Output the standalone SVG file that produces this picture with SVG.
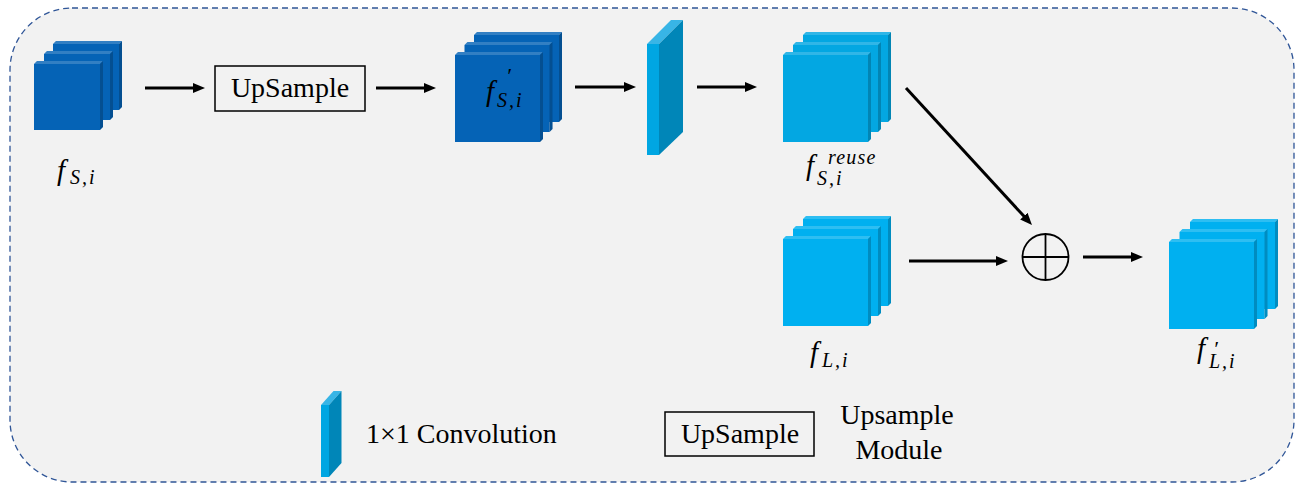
<svg xmlns="http://www.w3.org/2000/svg" xmlns:xlink="http://www.w3.org/1999/xlink" width="1304" height="485" viewBox="0 0 1304 485">
<style>
.txt{font-family:"Liberation Serif","Times New Roman",serif;font-size:28px;fill:#000}
.math{font-family:"Liberation Serif","Times New Roman",serif;font-style:italic;font-size:29px;fill:#000}
.sub{font-size:20px;letter-spacing:2px}
.sup{font-size:20px;letter-spacing:1.2px}
.pr{font-size:22px}
.arrow{stroke:#000;stroke-width:3;fill:none;marker-end:url(#ah)}
.box{fill:none;stroke:#000;stroke-width:1.5}
.dark{color:#0563b6}
.mid{color:#03a7e2}
.light{color:#00b0f0}
</style>
<defs>
<marker id="ah" viewBox="0 0 12 10" refX="2" refY="5" markerWidth="12" markerHeight="10" markerUnits="userSpaceOnUse" orient="auto">
<path d="M0,0 L12,5 L0,10 z" fill="#000"/>
</marker>
<g id="sheetS">
<rect x="0" y="0" width="66" height="66" fill="currentColor"/>
<polygon points="0,0 3,-3 69,-3 66,0" fill="currentColor"/>
<polygon points="0,0 3,-3 69,-3 66,0" fill="#fff" opacity="0.18"/>
<polygon points="66,0 69,-3 69,63 66,66" fill="currentColor"/>
<polygon points="66,0 69,-3 69,63 66,66" fill="#000" opacity="0.2"/>
</g>
<g id="sheetL">
<rect x="0" y="0" width="85" height="87" fill="currentColor"/>
<polygon points="0,0 3,-3 88,-3 85,0" fill="currentColor"/>
<polygon points="0,0 3,-3 88,-3 85,0" fill="#fff" opacity="0.18"/>
<polygon points="85,0 88,-3 88,84 85,87" fill="currentColor"/>
<polygon points="85,0 88,-3 88,84 85,87" fill="#000" opacity="0.2"/>
</g>
</defs>
<rect x="0" y="0" width="1304" height="485" fill="#fff"/>
<rect id="frame" x="10" y="8" width="1284" height="474" rx="62" ry="62" fill="#f2f2f2" stroke="#2f5597" stroke-width="1.3" stroke-dasharray="6 4"/>

<g id="fSi" class="dark">
<use xlink:href="#sheetS" x="53" y="44"/>
<use xlink:href="#sheetS" x="44" y="54"/>
<use xlink:href="#sheetS" x="34" y="64"/>
<text class="math" x="57" y="180">f<tspan class="sub" x="70" y="184">S,i</tspan></text>
</g>

<g id="upsample">
<rect class="box" x="215" y="66" width="150" height="45"/>
<text class="txt" x="290" y="97" text-anchor="middle">UpSample</text>
</g>

<g id="fSi_prime" class="dark">
<use xlink:href="#sheetL" x="474" y="35"/>
<use xlink:href="#sheetL" x="464.5" y="45"/>
<use xlink:href="#sheetL" x="455" y="55"/>
<text class="math" x="486" y="101">f<tspan class="pr" x="506" y="83">′</tspan><tspan class="sub" x="497" y="107">S,i</tspan></text>
</g>

<g id="conv">
<polygon points="647,44 671,20 683,20 659,44" fill="#38b5e6"/>
<polygon points="659,44 683,20 683,132 659,155" fill="#0086b8"/>
<rect x="647" y="44" width="12" height="111" fill="#00a6e2"/>
</g>

<g id="fSi_reuse" class="mid">
<use xlink:href="#sheetL" x="803" y="35"/>
<use xlink:href="#sheetL" x="793" y="45"/>
<use xlink:href="#sheetL" x="783" y="55"/>
<text class="math" x="806" y="175">f<tspan class="sup" x="828" y="164">reuse</tspan><tspan class="sub" x="817" y="185">S,i</tspan></text>
</g>

<g id="fLi" class="light">
<use xlink:href="#sheetL" x="803" y="219"/>
<use xlink:href="#sheetL" x="793" y="229"/>
<use xlink:href="#sheetL" x="783" y="239"/>
<text class="math" x="810" y="362">f<tspan class="sub" x="822" y="367">L,i</tspan></text>
</g>

<g id="add">
<circle cx="1045.5" cy="257" r="23" fill="none" stroke="#000" stroke-width="1.8"/>
<line x1="1022.5" y1="257" x2="1068.5" y2="257" stroke="#000" stroke-width="1.8"/>
<line x1="1045.5" y1="234" x2="1045.5" y2="280" stroke="#000" stroke-width="1.8"/>
</g>

<g id="fLi_prime" class="light">
<use xlink:href="#sheetL" x="1190" y="222"/>
<use xlink:href="#sheetL" x="1179.5" y="232"/>
<use xlink:href="#sheetL" x="1169" y="242"/>
<text class="math" x="1197" y="358">f<tspan class="pr" x="1213" y="356">′</tspan><tspan class="sub" x="1209" y="368">L,i</tspan></text>
</g>

<g id="connectors">
<line class="arrow" x1="145" y1="88" x2="195" y2="88"/>
<line class="arrow" x1="376" y1="88" x2="426" y2="88"/>
<line class="arrow" x1="575" y1="87" x2="626" y2="87"/>
<line class="arrow" x1="697" y1="87" x2="747" y2="87"/>
<line class="arrow" x1="906" y1="88" x2="1025.2" y2="217.6"/>
<line class="arrow" x1="909" y1="261" x2="998" y2="261"/>
<line class="arrow" x1="1083" y1="257" x2="1133" y2="257"/>
</g>

<g id="legend">
<g id="legend_conv">
<polygon points="321,405 333.5,391 341.5,391 329,405" fill="#38b5e6"/>
<polygon points="329,405 341.5,391 341.5,463 329,477" fill="#0086b8"/>
<rect x="321" y="405" width="8" height="72" fill="#00a6e2"/>
<text class="txt" x="366" y="443">1×1 Convolution</text>
</g>
<g id="legend_upsample">
<rect class="box" x="665" y="412" width="149" height="44"/>
<text class="txt" x="740" y="443" text-anchor="middle">UpSample</text>
<text class="txt" x="897" y="424" text-anchor="middle">Upsample</text>
<text class="txt" x="899" y="459" text-anchor="middle">Module</text>
</g>
</g>
</svg>
